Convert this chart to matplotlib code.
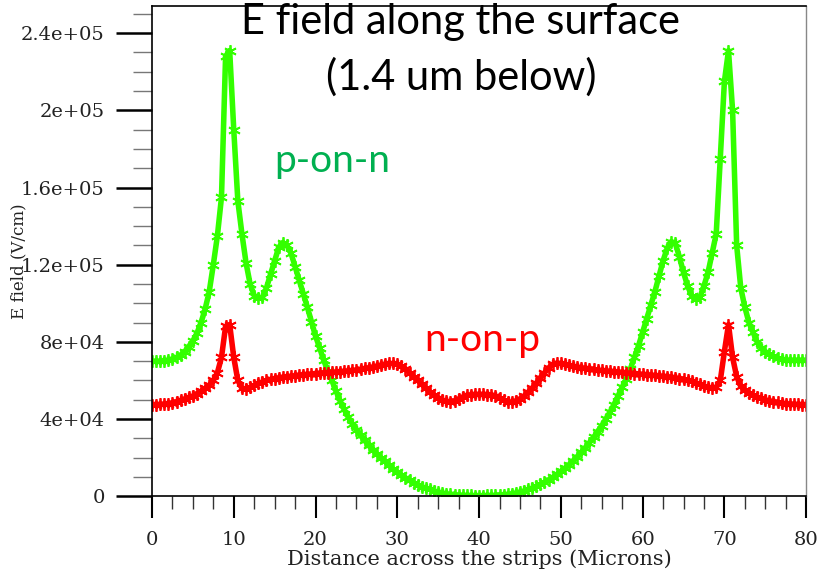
import numpy as np
import matplotlib
matplotlib.use("Agg")
import matplotlib.pyplot as plt
from matplotlib.ticker import MultipleLocator, FixedLocator

# sample positions across the strips (microns)
x_um = np.arange(0, 80.5, 0.5)

# E field, p-on-n (kV/cm, 0.5 um steps)
e_pn = [70, 70, 70, 70.3, 70.6, 71.2, 72, 73.2, 75, 77.5,
        80.5, 84.5, 90, 97, 106, 120, 135, 155, 228, 231,
        190, 153, 136, 121, 110, 104, 102.5, 103, 108, 115,
        122, 129, 131.5, 130, 126, 119, 112, 105, 98, 90.5,
        83, 77, 70.5, 65, 60, 54.5, 49.5, 45, 41, 37.5,
        34.5, 31.5, 29, 26.5, 24, 22, 20, 18, 16, 14,
        12.5, 11, 9.5, 8.2, 7, 6, 5, 4.2, 3.5, 2.8,
        2.2, 1.7, 1.3, 1.0, 0.8, 0.6, 0.5, 0.4, 0.4, 0.3,
        0.3, 0.3, 0.4, 0.4, 0.5, 0.6, 0.8, 1.0, 1.3, 1.7,
        2.2, 2.8, 3.5, 4.3, 5.2, 6.2, 7.3, 8.5, 9.8, 11.3,
        13, 14.6, 16.4, 18.4, 20.5, 22.8, 25.2, 27.8, 30.5, 33.5,
        36.5, 40, 43.5, 47.5, 52, 56.5, 61, 66, 72, 78,
        85, 92, 99, 106, 114, 122, 128.5, 132, 131, 124,
        116, 109, 104, 102, 103, 109, 116, 126, 136, 175,
        215, 231, 200, 130, 108, 98, 90, 85, 80, 77,
        75, 73.5, 72.5, 71.5, 71, 70.7, 70.5, 70.5, 70.5, 70.5,
        70.5]

# E field, n-on-p
e_np = [47.5, 47.5, 47.6, 47.8, 48, 48.5, 49, 49.7, 50.5, 51.2,
        52, 53.2, 54.5, 56, 57.5, 60, 64, 72, 88, 89,
        72, 60, 56, 55.5, 56.5, 57.5, 58.5, 59.3, 60, 60.5,
        61, 61.4, 61.7, 62, 62.2, 62.5, 62.8, 63, 63.2, 63.4,
        63.6, 63.8, 64, 64.1, 64.3, 64.4, 64.6, 64.8, 65, 65.2,
        65.5, 65.8, 66.2, 66.6, 67, 67.5, 68, 68.5, 68.8, 68.8,
        68.5, 67.5, 66, 64, 62, 60, 58, 56, 54, 52.5,
        51, 50, 49.2, 49, 49.5, 50.5, 51.5, 52.3, 52.6, 52.8,
        52.8, 52.8, 52.7, 52.5, 52, 51, 49.8, 49, 48.8, 49.5,
        50.5, 52, 54, 56, 58.5, 61.5, 64, 66.5, 68.3, 69,
        68.8, 68.3, 67.8, 67.4, 67, 66.6, 66.3, 66, 65.7, 65.4,
        65.2, 65, 64.8, 64.6, 64.4, 64.2, 64, 63.8, 63.6, 63.4,
        63.2, 63, 62.8, 62.6, 62.4, 62.2, 62, 61.7, 61.4, 61,
        60.6, 60, 59.5, 58.8, 58, 57.2, 56.5, 56, 56.5, 60,
        75, 89, 72, 62, 57, 55, 53.5, 52.5, 51.5, 50.7,
        50, 49.5, 49, 48.6, 48.3, 48, 47.8, 47.7, 47.6, 47.5,
        47.5]

y_ticks = [0, 4e4, 8e4, 1.2e5, 1.6e5, 2e5, 2.4e5]
y_ticklabels = ["0", "4e+04", "8e+04", "1.2e+05", "1.6e+05", "2e+05", "2.4e+05"]

e_pn = np.array(e_pn) * 1e3
e_np = np.array(e_np) * 1e3

fig = plt.figure(figsize=(8.26, 5.77), dpi=100)
ax = fig.add_axes([0.184, 0.140, 0.792, 0.850])

star = (6, 2, 0)
ax.plot(x_um, e_pn, color="#33ff00", lw=4, marker=star, ms=9, mew=1.3)
ax.plot(x_um, e_np, color="#ff0000", lw=4, marker=star, ms=9, mew=1.3)

ax.set_xlim(0, 80)
ax.set_ylim(0, 2.542e5)

ax.xaxis.set_major_locator(MultipleLocator(10))
ax.xaxis.set_minor_locator(MultipleLocator(2.5))
ax.yaxis.set_major_locator(FixedLocator(y_ticks))
ax.yaxis.set_minor_locator(MultipleLocator(1e4))
ax.set_yticklabels(y_ticklabels)

serif = "DejaVu Serif"
ax.tick_params(axis="x", which="major", direction="out", length=16, width=1.5, pad=9)
ax.tick_params(axis="x", which="minor", direction="out", length=9, width=1, color="#333333")
ax.tick_params(axis="y", which="major", direction="out", length=26, width=1.8, pad=8)
ax.tick_params(axis="y", which="minor", direction="out", length=14, width=1, color="#777777")
for lab in ax.get_xticklabels() + ax.get_yticklabels():
    lab.set_fontfamily(serif)
    lab.set_fontsize(14)
    lab.set_color("#222222")

ax.set_xlabel("Distance across the strips (Microns)", fontfamily=serif,
              fontsize=15, labelpad=0, color="#222222")
ax.set_ylabel("E field (V/cm)", fontfamily=serif, fontsize=12, color="#222222")
ax.yaxis.set_label_coords(-0.19, 0.48)

for side in ["left", "bottom", "top"]:
    ax.spines[side].set_color("black")
    ax.spines[side].set_linewidth(1.2)
ax.spines["right"].set_color("#888888")
ax.spines["right"].set_linewidth(1)

title_font = "Lato"
fig.text(0.558, 0.962, "E field along the surface", fontfamily=title_font,
         fontsize=30, ha="center", va="center", color="black")
fig.text(0.558, 0.867, "(1.4 um below)", fontfamily=title_font,
         fontsize=30, ha="center", va="center", color="black")
ax.text(22.0, 1.74e5, "p-on-n", fontfamily=title_font, fontsize=28,
        color="#00b050", ha="center", va="center")
ax.text(40.4, 8.1e4, "n-on-p", fontfamily=title_font, fontsize=28,
        color="#ff0000", ha="center", va="center")

fig.savefig("out.png", dpi=100)
